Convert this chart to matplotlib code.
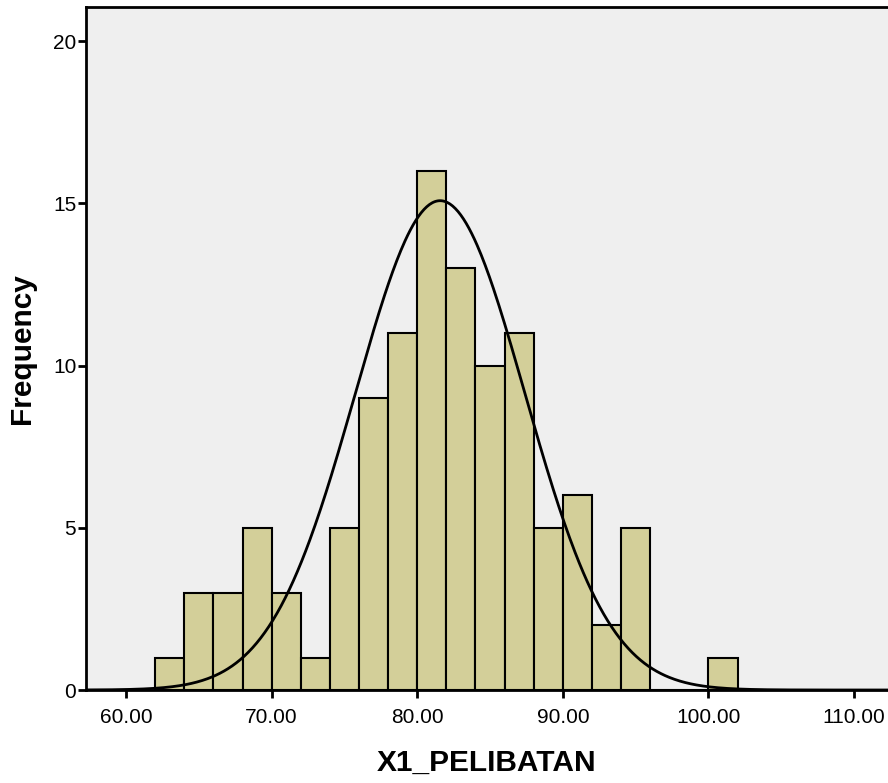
import numpy as np
import matplotlib
matplotlib.use('Agg')
import matplotlib.pyplot as plt

# histogram bins (left edges) and counts
bin_edges = [62, 64, 66, 68, 70, 72, 74, 76, 78, 80, 82, 84, 86, 88, 90, 92, 94, 96, 98, 100, 102]
counts    = [1, 3, 3, 5, 3, 1, 5, 9, 11, 16, 13, 10, 11, 5, 6, 2, 5, 0, 0, 1]
# fitted normal curve
mean_val  = 81.57
std_val   = 5.82
n_total   = sum(counts)
bin_width = 2.0

xticks  = [60, 70, 80, 90, 100, 110]
xlabels = ['60.00', '70.00', '80.00', '90.00', '100.00', '110.00']
yticks  = [0, 5, 10, 15, 20]

plt.rcParams['font.family'] = ['Liberation Sans', 'DejaVu Sans']

fig = plt.figure(figsize=(8.88, 7.83), dpi=100)
ax = fig.add_axes([86/888, 1-690/783, 1-86/888, 683/783])
ax.set_facecolor('#efefef')

lefts = np.array(bin_edges[:-1])
widths = np.diff(bin_edges)
ax.bar(lefts, counts, width=widths, align='edge', color='#d3cf99',
       edgecolor='black', linewidth=1.5, zorder=2)

xs = np.linspace(57, 113, 600)
ys = n_total*bin_width/(std_val*np.sqrt(2*np.pi))*np.exp(-0.5*((xs-mean_val)/std_val)**2)
ax.plot(xs, ys, color='black', lw=2, zorder=3)

ax.set_xlim(57.25, 112.33)
ax.set_ylim(0, 21.05)
ax.set_xticks(xticks)
ax.set_xticklabels(xlabels)
ax.set_yticks(yticks)
ax.tick_params(axis='both', labelsize=15, width=2, length=6, color='black')
ax.tick_params(axis='x', pad=7)
ax.tick_params(axis='y', pad=1)
for s in ['left', 'bottom', 'top']:
    ax.spines[s].set_linewidth(2)
ax.spines['right'].set_visible(False)

ax.set_xlabel('X1_PELIBATAN', fontsize=21.5, fontweight='bold', labelpad=16)
ax.set_ylabel('Frequency', fontsize=21.5, fontweight='bold', labelpad=12)

fig.savefig('out.png', dpi=100)
